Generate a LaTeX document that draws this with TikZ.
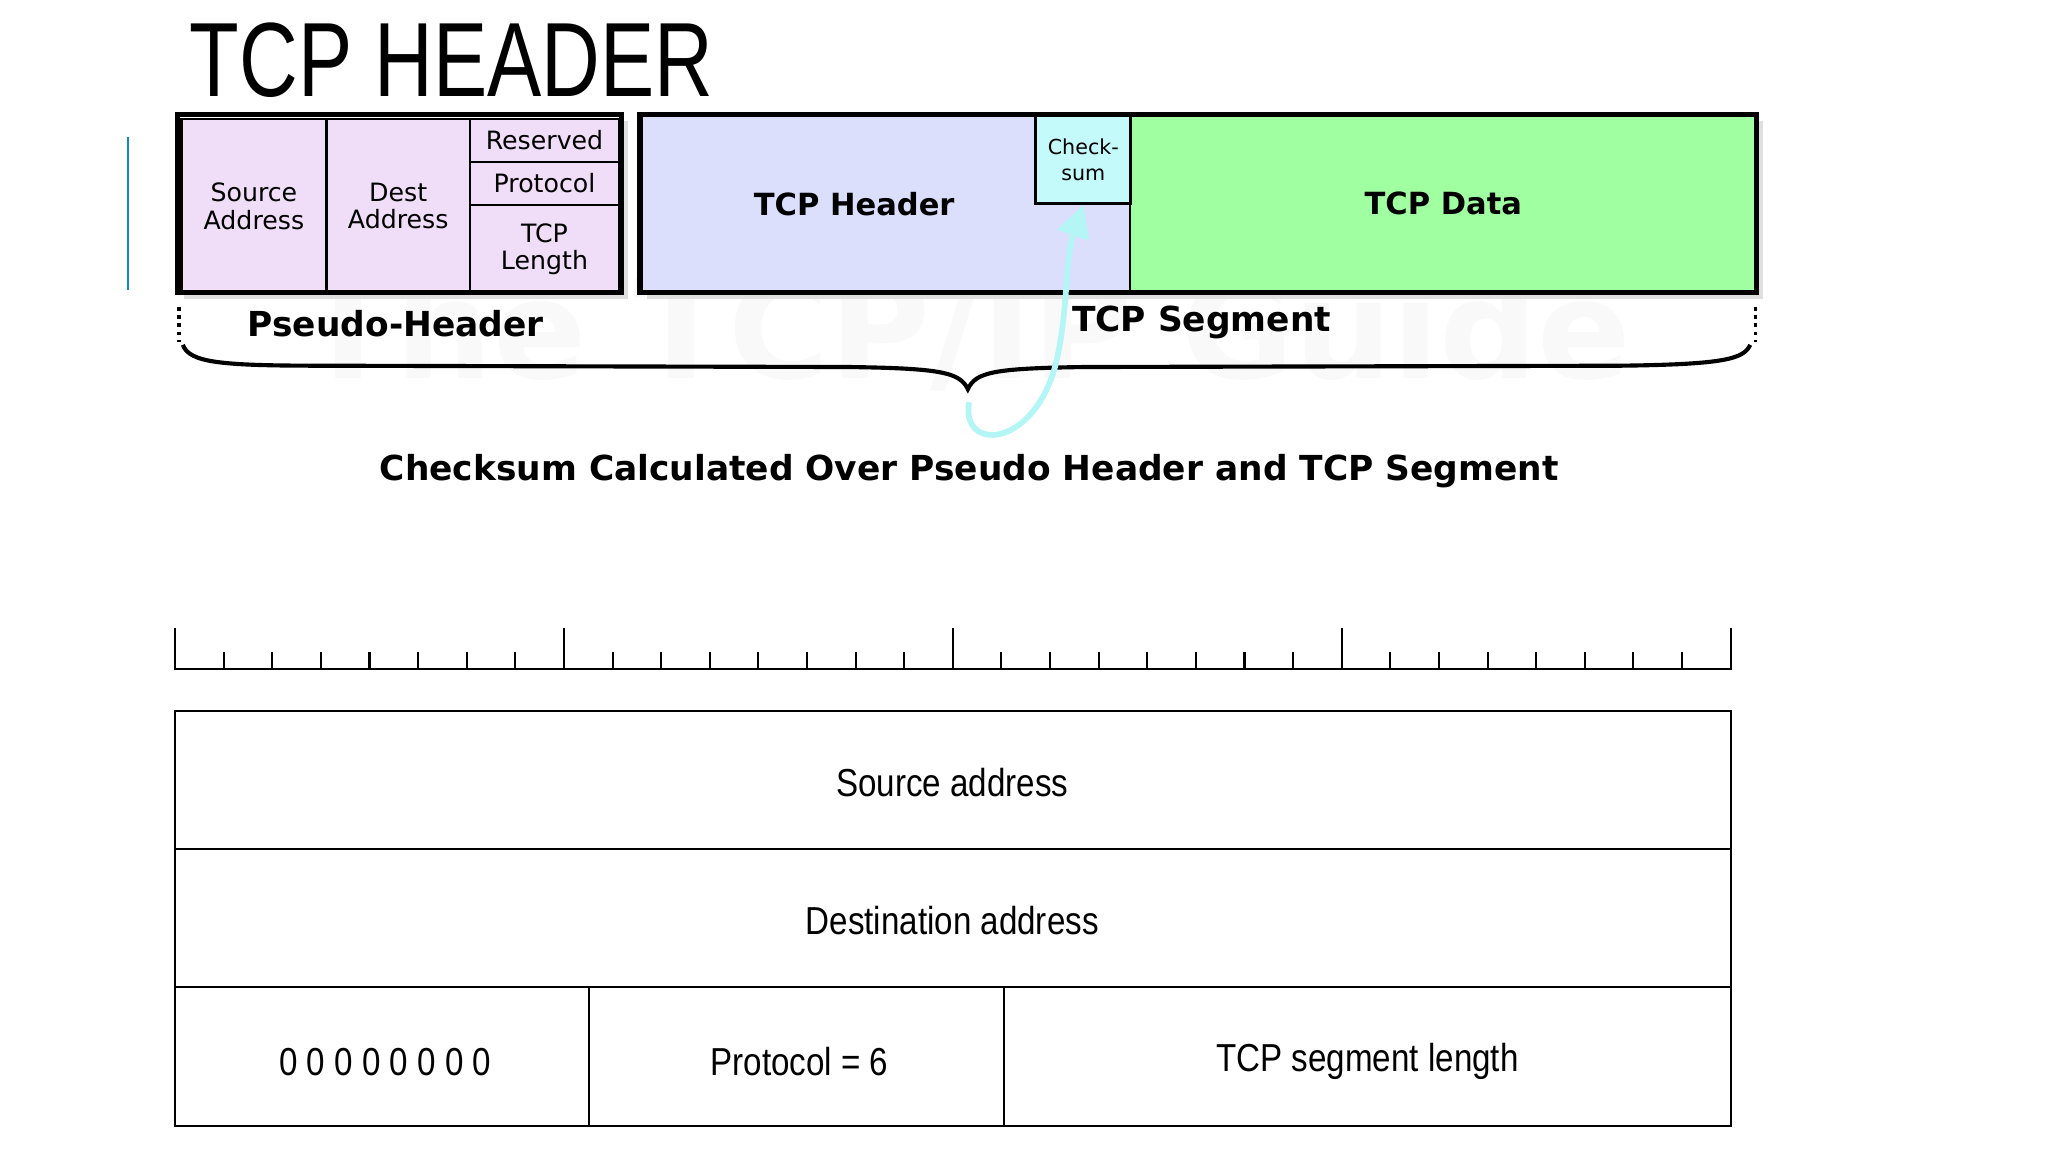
\documentclass[tikz,border=0pt]{standalone}
\usepackage{fontspec}
\setmainfont{DejaVu Sans}
\newfontfamily\narrow{Liberation Sans}
\usetikzlibrary{arrows.meta}
\definecolor{lav}{HTML}{F0DDF8}
\definecolor{hdr}{HTML}{DCDFFB}
\definecolor{cks}{HTML}{C4FAFA}
\definecolor{dat}{HTML}{A0FFA0}
\definecolor{arr}{HTML}{B4F6F6}
\tikzset{
 cell/.style={draw=black,line width=1pt},
 outer/.style={draw=black,line width=2.2pt},
 small/.style={font=\fontsize{11}{12}\selectfont,align=center,inner sep=0pt},
 bold/.style={font=\fontsize{13.3}{14}\selectfont\bfseries,inner sep=0pt},
 bigbold/.style={font=\fontsize{15}{16}\selectfont\bfseries,inner sep=0pt},
 tbl/.style={draw=black,line width=0.9pt},
 tbltext/.style={font=\narrow\fontsize{17}{18}\selectfont,xscale=0.85,inner sep=0pt},
}
\begin{document}
\begin{tikzpicture}[x=0.02cm,y=-0.02cm]
\useasboundingbox[fill=white] (0,0) rectangle (1568,882);
% watermark
\node[text=gray!5,font=\fontsize{60}{60}\selectfont\bfseries] (wm) at (740,255) {The TCP/IP Guide};
% title
\node[font=\narrow\fontsize{46}{46}\selectfont,xscale=0.77,anchor=west,inner sep=0] (title) at (145,46) {TCP HEADER};
\draw[color=cyan!70!blue,line width=1.2pt] (98,105) -- (98,222);
% shadows
\fill[gray!25] (141,93) rectangle (481,229);
\fill[gray!25] (495,93) rectangle (1350,229);
% pseudo header
\node[cell,fill=lav,minimum width=111*0.02cm,minimum height=134*0.02cm,anchor=north west,inner sep=0] (src) at (138,90) {};
\node[small] at (src) {Source\\Address};
\node[cell,fill=lav,minimum width=110*0.02cm,minimum height=134*0.02cm,anchor=north west,inner sep=0] (dst) at (249,90) {};
\node[small] at (dst) {Dest\\Address};
\node[cell,fill=lav,minimum width=114*0.02cm,minimum height=33*0.02cm,anchor=north west,inner sep=0] (res) at (359,90) {};
\node[small] at (res) {Reserved};
\node[cell,fill=lav,minimum width=114*0.02cm,minimum height=33*0.02cm,anchor=north west,inner sep=0] (pro) at (359,123) {};
\node[small] at (pro) {Protocol};
\node[cell,fill=lav,minimum width=114*0.02cm,minimum height=68*0.02cm,anchor=north west,inner sep=0] (len) at (359,156) {};
\node[small] at (len) {TCP\\Length};
\draw[outer] (136,88) rectangle (476,224);
% segment
\fill[hdr] (490,88) rectangle (865,224);
\fill[dat] (865,88) rectangle (1345,224);
\node[cell,fill=cks,minimum width=73*0.02cm,minimum height=67*0.02cm,anchor=north west,inner sep=0] (ck) at (792,88) {};
\node[font=\fontsize{9}{11}\selectfont,align=center,inner sep=0] at (ck) {Check-\\sum};
\draw[cell] (865,88) -- (865,224);
\draw[outer] (490,88) rectangle (1345,224);
\node[bold] (th) at (654,156) {TCP Header};
\node[bold] (td) at (1105,156) {TCP Data};
% brace
\draw[line width=1.6pt,dotted] (137,235) -- (137,262);
\draw[line width=1.6pt,dotted] (1344,235) -- (1344,262);
\draw[line width=1.8pt] (140,264) .. controls (145,278) and (170,280) .. (250,280)
  -- (650,281) .. controls (720,282) and (735,285) .. (741,298)
  .. controls (747,285) and (760,282) .. (830,281) -- (1240,280)
  .. controls (1320,279) and (1335,275) .. (1340,264);
\node[bigbold] (ph) at (303,248) {Pseudo-Header};
\node[bigbold] (ts) at (920,247) {TCP Segment};
% arrow
\coordinate (a0) at (742,308);
\draw[arr,line width=2.5pt,-{Triangle[length=14pt,width=14pt]}] (a0) .. controls (735,345) and (790,345) .. (808,280) .. controls (818,240) and (815,200) .. (ck.south);
\node[bigbold] (cap) at (742,361) {Checksum Calculated Over Pseudo Header and TCP Segment};
% ruler
\draw[line width=0.9pt] (134,481) -- (134,512) -- (1325,512) -- (1325,481);
\foreach \i in {1,...,31}{
  \pgfmathsetmacro\xx{134+\i*37.21875}
  \pgfmathsetmacro\yy{mod(\i,8)==0?481:499}
  \draw[line width=0.9pt] (\xx,512) -- (\xx,\yy);
}
% table
\draw[tbl] (134,544) rectangle (1325,862);
\draw[tbl] (134,650) -- (1325,650);
\draw[tbl] (134,756) -- (1325,756);
\draw[tbl] (451,756) -- (451,862);
\draw[tbl] (769,756) -- (769,862);
\node[tbltext] (t1) at (729,599) {Source address};
\node[tbltext] (t2) at (729,705) {Destination address};
\node[tbltext] (t3) at (295,813) {0 0 0 0 0 0 0 0};
\node[tbltext] (t4) at (612,813) {Protocol = 6};
\node[tbltext] (t5) at (1047,813) {TCP segment length};
\end{tikzpicture}
\end{document}
